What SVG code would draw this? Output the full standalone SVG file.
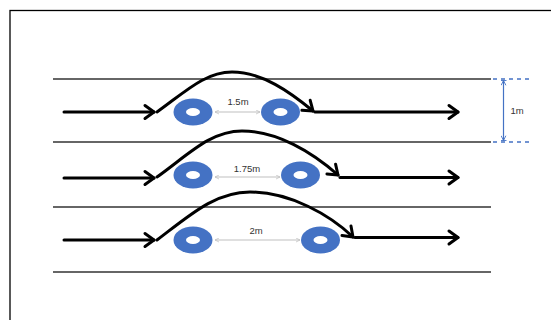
<svg xmlns="http://www.w3.org/2000/svg" width="551" height="320" viewBox="0 0 551 320">
<defs>
<style>
.road{stroke:#333;stroke-width:1.6;fill:none}
.arr{stroke:#000;stroke-width:3;fill:none;stroke-linecap:round;marker-end:url(#bk)}
.dash{stroke:#4472C4;stroke-width:1.3;stroke-dasharray:4,4;fill:none}
.gray{stroke:#BFBFBF;stroke-width:1.2;fill:none;marker-start:url(#ga);marker-end:url(#ga)}
.lbl{font-family:"Liberation Sans",Arial,sans-serif;font-size:9.5px;fill:#333;text-anchor:middle}
.donut{fill:#4472C4}
.hole{fill:#fff}
</style>
<marker id="bk" viewBox="0 0 12 16" refX="10.5" refY="8" markerWidth="12" markerHeight="16" orient="auto" markerUnits="userSpaceOnUse" overflow="visible">
<path d="M1.5,1.5 L10.5,8 L1.5,14.5" fill="none" stroke="#000" stroke-width="3" stroke-linecap="round" stroke-linejoin="round"/>
</marker>
<marker id="ga" viewBox="0 0 10 10" refX="9" refY="5" markerWidth="5" markerHeight="5" orient="auto-start-reverse" markerUnits="userSpaceOnUse">
<path d="M1,1 L9,5 L1,9" fill="none" stroke="#BFBFBF" stroke-width="1.5"/>
</marker>
<marker id="ba" viewBox="0 0 10 10" refX="9" refY="5" markerWidth="6" markerHeight="6" orient="auto-start-reverse" markerUnits="userSpaceOnUse">
<path d="M1,1 L9,5 L1,9 M9,0 V10" fill="none" stroke="#4472C4" stroke-width="1.5"/>
</marker>
</defs>
<rect x="10" y="10.5" width="560" height="330" fill="#fff" stroke="#000" stroke-width="1.3"/>
<g id="roads">
<line class="road" x1="53" y1="79" x2="491" y2="79"/>
<line class="road" x1="53" y1="142" x2="491" y2="142"/>
<line class="road" x1="53" y1="207" x2="491" y2="207"/>
<line class="road" x1="53" y1="272" x2="491" y2="272"/>
</g>
<g id="dimension">
<line class="dash" x1="493" y1="79" x2="533" y2="79"/>
<line class="dash" x1="493" y1="142" x2="533" y2="142"/>
<line x1="503.5" y1="80.5" x2="503.5" y2="140.5" stroke="#4472C4" stroke-width="1.2" marker-start="url(#ba)" marker-end="url(#ba)"/>
<text class="lbl" x="517" y="114">1m</text>
</g>
<g id="donuts">
<g id="d1a"><ellipse class="donut" cx="193" cy="112" rx="19.5" ry="13.5"/><ellipse class="hole" cx="193" cy="112" rx="7" ry="4"/></g>
<g id="d1b"><ellipse class="donut" cx="280.5" cy="112" rx="19.5" ry="13.5"/><ellipse class="hole" cx="280.5" cy="112" rx="7" ry="4"/></g>
<g id="d2a"><ellipse class="donut" cx="193" cy="175" rx="19.5" ry="13.5"/><ellipse class="hole" cx="193" cy="175" rx="7" ry="4"/></g>
<g id="d2b"><ellipse class="donut" cx="300.5" cy="175" rx="19.5" ry="13.5"/><ellipse class="hole" cx="300.5" cy="175" rx="7" ry="4"/></g>
<g id="d3a"><ellipse class="donut" cx="193" cy="240" rx="19.5" ry="13.5"/><ellipse class="hole" cx="193" cy="240" rx="7" ry="4"/></g>
<g id="d3b"><ellipse class="donut" cx="320.5" cy="240" rx="19.5" ry="13.5"/><ellipse class="hole" cx="320.5" cy="240" rx="7" ry="4"/></g>
</g>
<g id="spacing">
<line class="gray" x1="215" y1="112" x2="260" y2="112"/>
<text class="lbl" x="238" y="105">1.5m</text>
<line class="gray" x1="215" y1="177" x2="280" y2="177"/>
<text class="lbl" x="247" y="172">1.75m</text>
<line class="gray" x1="215" y1="240" x2="300" y2="240"/>
<text class="lbl" x="256" y="234">2m</text>
</g>
<g id="connectors">
<path class="arr" d="M64,112 H154"/>
<path class="arr" d="M157,112 C185,92 205,72 232,72 C262,72 290,92 313,111"/>
<path class="arr" d="M315,112 H458"/>

<path class="arr" d="M64,178 H154"/>
<path class="arr" d="M157,177 C188,155 210,131 242,131 C277,131 312,152 338,175"/>
<path class="arr" d="M340,177.5 H458"/>

<path class="arr" d="M64,240 H154"/>
<path class="arr" d="M157,240 C190,215 215,192 250,192 C290,192 330,215 353,237"/>
<path class="arr" d="M355,237.5 H458"/>
</g>
</svg>
